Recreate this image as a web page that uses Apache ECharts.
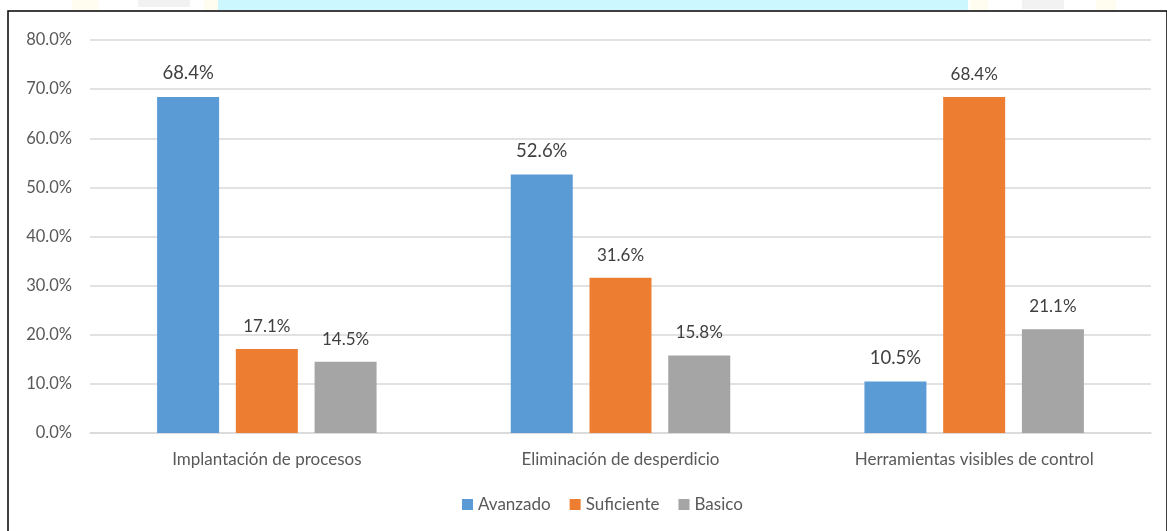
<!DOCTYPE html>
<html>
<head>
<meta charset="utf-8">
<script src="https://cdn.jsdelivr.net/npm/echarts@6/dist/echarts.min.js"></script>
<style>
  html, body { margin: 0; padding: 0; background: #ffffff; }
  #chart { width: 1167px; height: 531px; }
</style>
</head>
<body>
<div id="chart"></div>
<script>
// Categories and series values (percent)
const categories = ['Implantación de procesos', 'Eliminación de desperdicio', 'Herramientas visibles de control'];
const avanzado = [68.4, 52.6, 10.5];
const suficiente = [17.1, 31.6, 68.4];
const basico = [14.5, 15.8, 21.1];
const seriesNames = ['Avanzado', 'Suficiente', 'Basico'];
const colors = ['#5b9bd5', '#ed7d31', '#a5a5a5'];

const FONT = 'Lato, "Open Sans", sans-serif';
const TEXT = '#595959';

const chart = echarts.init(document.getElementById('chart'), null, { renderer: 'canvas' });

function barSeries(name, data, color, labelSize) {
  return {
    name: name,
    type: 'bar',
    data: data,
    barWidth: 62,
    barGap: '27%',
    itemStyle: { color: color },
    label: {
      show: true,
      position: 'top',
      distance: 14,
      color: '#404040',
      fontFamily: FONT,
      fontSize: labelSize,
      formatter: p => p.value.toFixed(1) + '%'
    }
  };
}

chart.setOption({
  animation: false,
  backgroundColor: '#ffffff',
  grid: { left: 90, right: 16, top: 40, bottom: 98, containLabel: false },
  legend: {
    bottom: 13,
    left: 457,
    itemWidth: 11,
    itemHeight: 11,
    itemGap: 19,
    icon: 'rect',
    textStyle: { color: TEXT, fontFamily: FONT, fontSize: 17 },
    data: seriesNames
  },
  xAxis: {
    type: 'category',
    data: categories,
    axisLine: { show: true, lineStyle: { color: '#d9d9d9', width: 1.5 } },
    axisTick: { show: false },
    axisLabel: { color: TEXT, fontFamily: FONT, fontSize: 17, margin: 18 }
  },
  yAxis: {
    type: 'value',
    min: 0,
    max: 80,
    interval: 10,
    axisLine: { show: false },
    axisTick: { show: false },
    splitLine: { lineStyle: { color: '#d9d9d9', width: 1.5 } },
    axisLabel: {
      color: TEXT, fontFamily: FONT, fontSize: 16.5, margin: 18,
      formatter: v => v.toFixed(1) + '%'
    }
  },
  graphic: [
    // page strip above the chart frame
    { type: 'rect', shape: { x: 218, y: 0, width: 750, height: 10 }, style: { fill: '#cdf7ff' }, z: -1 },
    { type: 'rect', shape: { x: 72, y: 0, width: 26, height: 10 }, style: { fill: '#fffdf0' }, z: -1 },
    { type: 'rect', shape: { x: 138, y: 0, width: 52, height: 7 }, style: { fill: '#f2f2f2' }, z: -1 },
    { type: 'rect', shape: { x: 204, y: 0, width: 14, height: 10 }, style: { fill: '#fffdf0' }, z: -1 },
    { type: 'rect', shape: { x: 970, y: 0, width: 18, height: 10 }, style: { fill: '#fffdf0' }, z: -1 },
    { type: 'rect', shape: { x: 1022, y: 0, width: 42, height: 9 }, style: { fill: '#f2f2f2' }, z: -1 },
    { type: 'rect', shape: { x: 1096, y: 0, width: 20, height: 10 }, style: { fill: '#fffdf0' }, z: -1 },
    // chart frame
    { type: 'rect', shape: { x: 8, y: 11, width: 1159, height: 530 },
      style: { fill: 'none', stroke: '#000000', lineWidth: 1.5 } }
  ],
  series: [
    barSeries(seriesNames[0], avanzado, colors[0], 18.5),
    barSeries(seriesNames[1], suficiente, colors[1], 17),
    barSeries(seriesNames[2], basico, colors[2], 17)
  ]
});
</script>
</body>
</html>
